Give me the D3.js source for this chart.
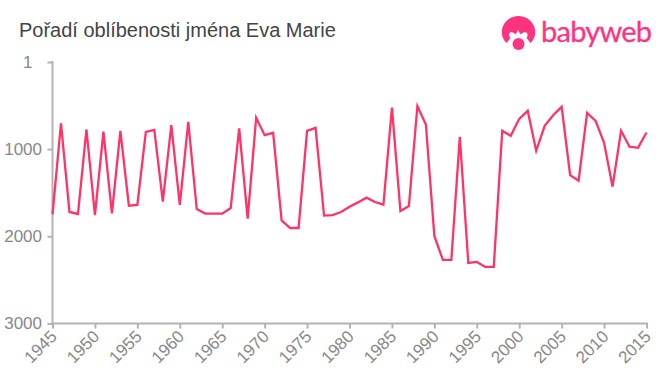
<!DOCTYPE html>
<html><head><meta charset="utf-8">
<script src="https://cdnjs.cloudflare.com/ajax/libs/d3/7.8.5/d3.min.js"></script>
<style>html,body{margin:0;padding:0;background:#fff}svg{display:block}text{font-family:"Liberation Sans",Arial,sans-serif}</style>
</head><body><svg id="c" width="660" height="375"></svg>
<script>
const chartTitle = "Pořadí oblíbenosti jména Eva Marie";
const brand = "babyweb";
const years = d3.range(1945, 2016);
const ranks = [1748,706,1721,1744,775,1756,800,1737,790,1649,1641,802,779,1603,725,1641,687,1687,1740,1740,1740,1676,763,1798,641,840,813,1817,1905,1905,790,756,1763,1756,1721,1660,1611,1557,1607,1637,523,1710,1653,508,718,1996,2271,2271,859,2305,2294,2351,2351,790,847,653,561,1019,733,611,515,1298,1363,584,676,928,1431,790,973,985,809];
const xTicks = d3.range(1945, 2016, 5);
const yTicks = [1,1000,2000,3000];
const svg = d3.select("#c");
const x = d3.scaleLinear().domain([1945,2015]).range([52.5,646.5]);
const y = d3.scaleLinear().domain([1,3000]).range([62,323.5]);
const axisColor="#b3b3b3", textColor="#888888", pink="#ff3366";

const gx = svg.append("g").attr("transform","translate(0,323.5)")
  .call(d3.axisBottom(x).tickValues(xTicks).tickFormat(d3.format("d")).tickSize(5).tickSizeOuter(0));
const gy = svg.append("g").attr("transform","translate(52.5,0)")
  .call(d3.axisLeft(y).tickValues(yTicks).tickFormat(d3.format("d")).tickSize(5).tickSizeOuter(0));
[gx,gy].forEach(g=>{
  g.selectAll("path,line").attr("stroke",axisColor).attr("stroke-width",2);
  g.selectAll("text").attr("fill",textColor).attr("font-size",17).style("font-family",'"Liberation Sans",Arial,sans-serif');
});
gx.select(".domain").attr("d","M51.5,0H648");
gy.select(".domain").attr("d","M0,61H0V324.5");
gy.selectAll("text").attr("x",d=>d===1?-20:-10.5).attr("dy","0.32em");
gx.selectAll("text").attr("text-anchor","end").attr("dx",0).attr("dy",0).attr("y",0)
  .attr("transform","translate(5,14) rotate(-45)");

svg.append("path").datum(years.map((d,i)=>[d,ranks[i]]))
  .attr("fill","none").attr("stroke",pink).attr("stroke-width",2.3).attr("stroke-linejoin","miter")
  .attr("d",d3.line().x(d=>x(d[0])).y(d=>y(d[1])));

svg.append("text").attr("x",19).attr("y",37).attr("font-size",20).attr("fill","#444").text(chartTitle);

const logo = svg.append("g").attr("fill","#ff3380");
logo.append("path").attr("d","M506.5,43 C501,38 501,31 503,26 C506,19.5 512,16 518.5,16 C525,16 531,19.5 534,26 C536,31 536,38 530.5,43 C529,41 528,40 526.5,38 C528,36 528,33 526,32.5 C524,32 522.5,33 521,34.5 C519.5,33 519,32 518,30 C517,32 516.5,33 515.5,34.5 C514,33 512.5,32 510.5,32.5 C508.5,33 508.5,36 510.5,38 C509,40 508,41 506.5,43 Z");
logo.append("circle").attr("cx",518.5).attr("cy",44).attr("r",6);
logo.append("text").attr("x",541).attr("y",42).attr("font-size",29).attr("fill","#ff3380").attr("stroke","#ff3380").attr("stroke-width",0.3).style("font-family","Lato, sans-serif").attr("textLength",111).text(brand);
</script></body></html>
